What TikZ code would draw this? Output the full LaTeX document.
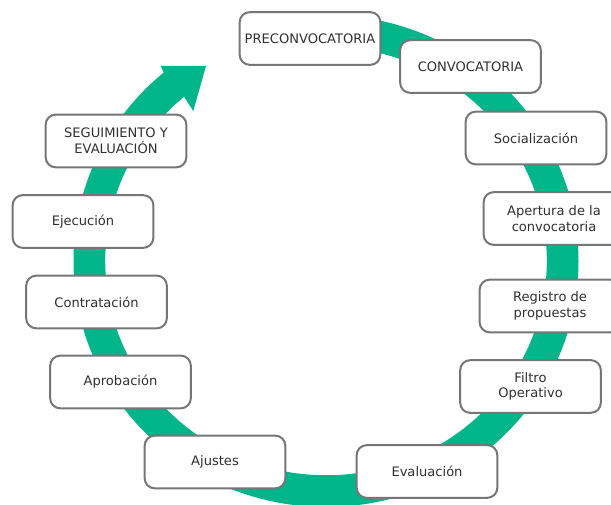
\documentclass[tikz,border=0pt]{standalone}
\usepackage{fontspec}
\setmainfont{DejaVu Sans}
\definecolor{ringgreen}{HTML}{00B589}
\definecolor{boxline}{HTML}{767676}
\definecolor{boxtext}{HTML}{303030}
\tikzset{
  stagebox/.style={draw=boxline, line width=1.5pt, fill=white, rounded corners=7.5pt,
    minimum width=105.5pt, minimum height=39.5pt, inner sep=2pt, align=center,
    text=boxtext, font=\fontsize{9.8}{11.8}\selectfont},
  ringfill/.style={fill=ringgreen}
}
\begin{document}
\begin{tikzpicture}[x=0.75pt,y=0.75pt]
\useasboundingbox (0,0) rectangle (611,505);
% green circular arrow
\fill[ringfill] (326,490) arc[start angle=90, end angle=-230, x radius=252.5, y radius=246]
  -- (160.7,439) -- (206,439) -- (193.3,394) -- (184.1,408.2)
  arc[start angle=-230, end angle=90, x radius=220.8, y radius=214.3] -- cycle;
% stages
\node[stagebox] (pre)   at (310,466.5) {PRECONVOCATORIA};
\node[stagebox] (conv)  at (470.5,438.5) {CONVOCATORIA};
\node[stagebox] (soc)   at (536,367) {Socialización};
\node[stagebox] (aper)  at (554,286.5) {Apertura de la\\convocatoria};
\node[stagebox] (reg)   at (550,199) {Registro de\\propuestas};
\node[stagebox] (filt)  at (530.5,118.5) {Filtro\\Operativo};
\node[stagebox] (eval)  at (427,33.5) {Evaluación};
\node[stagebox] (ajus)  at (215,43) {Ajustes};
\node[stagebox] (aprob) at (120.5,123) {Aprobación};
\node[stagebox] (contr) at (96.5,203) {Contratación};
\node[stagebox] (ejec)  at (83,283.5) {Ejecución};
\node[stagebox] (seg)   at (116,364) {SEGUIMIENTO Y\\EVALUACIÓN};
\end{tikzpicture}
\end{document}
